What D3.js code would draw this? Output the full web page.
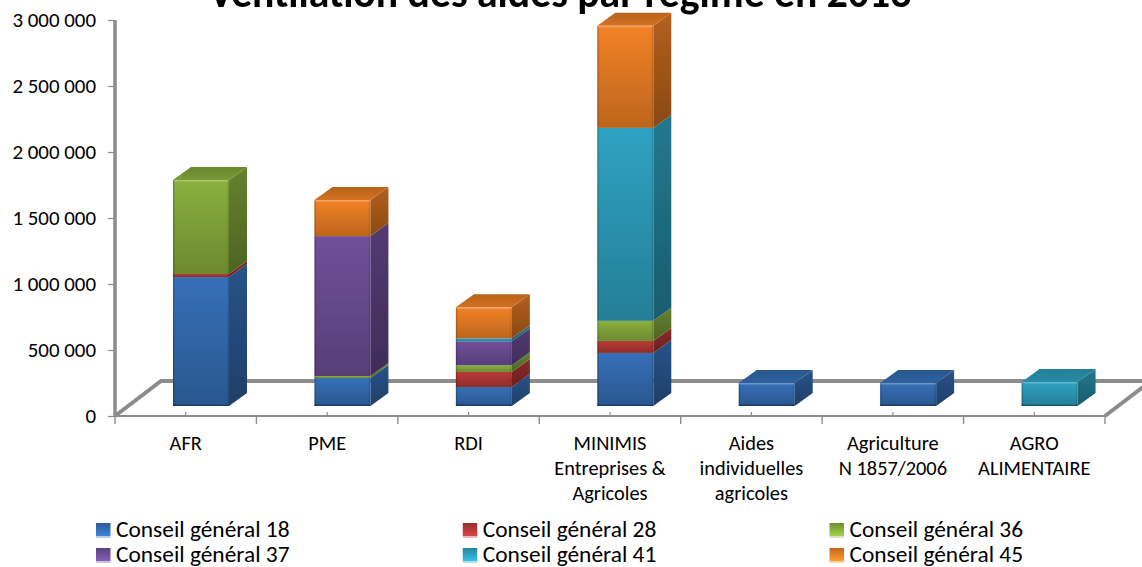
<!DOCTYPE html>
<html lang="fr">
<head>
<meta charset="utf-8">
<title>Ventilation des aides par régime en 2013</title>
<script src="https://cdn.jsdelivr.net/npm/d3@7/dist/d3.min.js"></script>
<style>
  html, body { margin: 0; padding: 0; background: #fff; overflow: hidden; }
  svg { display: block; font-family: Carlito, Lato, "Open Sans", sans-serif; fill: #000; }
</style>
</head>
<body>
<div id="chart"></div>
<script>
// Aid amounts in euros, one array per funding body, in category order.
const categories = [
  ["AFR"],
  ["PME"],
  ["RDI"],
  ["MINIMIS", "Entreprises &", "Agricoles"],
  ["Aides", "individuelles", "agricoles"],
  ["Agriculture", "N 1857/2006"],
  ["AGRO", "ALIMENTAIRE"]
];
const seriesNames = ["Conseil général 18", "Conseil général 28", "Conseil général 36",
                     "Conseil général 37", "Conseil général 41", "Conseil général 45"];
const cg18 = [977000, 212000, 144000, 402000, 174000, 174000, 0];
const cg28 = [23000, 0, 114000, 91000, 0, 0, 0];
const cg36 = [712000, 15000, 50000, 152000, 0, 0, 0];
const cg37 = [0, 1060000, 182000, 0, 0, 0, 0];
const cg41 = [0, 0, 23000, 1462000, 0, 0, 182000];
const cg45 = [0, 273000, 235000, 773000, 0, 0, 0];
const yTicks = [0, 500000, 1000000, 1500000, 2000000, 2500000, 3000000];
const seriesColors = ["#3670b8", "#b93a36", "#8ab03e", "#70509a", "#2fa2c2", "#f28226"];

const allSeries = [cg18, cg28, cg36, cg37, cg41, cg45];
const width = 1142, height = 567;

const svg = d3.select("#chart").append("svg")
  .attr("width", width).attr("height", height);

const x = d3.scaleBand().domain(d3.range(categories.length)).range([115, 1105]);
const y = d3.scaleLinear().domain([0, 3000000]).range([416, 20]);

// Oblique projection: floor depth and bar depth.
const floorDx = 46, floorDy = -35;
const barDx = 18, barDy = -13;
const barBaseLift = 10, barLeft = 58, barWidth = 56;
const axisGrey = "#8c8c8c";

// Gradients for the front, side and top faces of each colour.
const defs = svg.append("defs");
const shade = (c, k) => d3.color(c).darker(k).formatHex();
function gradient(id, top, bottom) {
  const g = defs.append("linearGradient").attr("id", id)
    .attr("x1", 0).attr("y1", 0).attr("x2", 0).attr("y2", 1);
  g.append("stop").attr("offset", 0).attr("stop-color", top);
  g.append("stop").attr("offset", 1).attr("stop-color", bottom);
}
seriesColors.forEach((c, i) => {
  gradient(`front${i}`, c, shade(c, 0.7));
  gradient(`side${i}`, shade(c, 0.85), shade(c, 1.6));
  gradient(`top${i}`, shade(c, 0.75), shade(c, 0.4));
  gradient(`key${i}`, shade(c, 0.6), d3.color(c).brighter(0.5).formatHex());
});
// Slight softening of the bevelled bar edges.
defs.append("filter").attr("id", "soft")
  .attr("x", "-5%").attr("y", "-5%").attr("width", "110%").attr("height", "110%")
  .append("feGaussianBlur").attr("stdDeviation", 0.45);

// Floor: the two receding edges and the back edge, clipped at the page edge.
const floor = svg.append("g").attr("fill", "none").attr("stroke", axisGrey);
const x0 = x.range()[0], x1 = x.range()[1], yFloor = y(0);
floor.append("path").attr("stroke-width", 4)
  .attr("d", `M${x0},${yFloor}L${x0 + floorDx},${yFloor + floorDy}L${x1 + floorDx},${yFloor + floorDy}L${x1},${yFloor}`);

// Value axis, drawn as a thick wall edge with thin ticks.
const yAxis = d3.axisLeft(y).tickValues(yTicks).tickSize(7).tickPadding(12)
  .tickFormat(v => d3.format(",")(v).replace(/,/g, " "));
const yG = svg.append("g").attr("transform", `translate(${x0},0)`).call(yAxis)
  .attr("font-family", null).attr("font-size", 20.9);
yG.select(".domain").attr("stroke", axisGrey).attr("stroke-width", 3.5).attr("d", `M0,${y(3000000)}V${yFloor}`);
yG.selectAll(".tick line").attr("stroke", axisGrey).attr("stroke-width", 1.2);
yG.selectAll("text").attr("fill", "#000");

// Category axis with separators between groups.
const xG = svg.append("g").attr("transform", `translate(0,${yFloor})`);
xG.append("line").attr("x1", x0).attr("x2", x1).attr("stroke", axisGrey).attr("stroke-width", 1.8);
const edges = categories.map((_, i) => x(i)).concat([x1]);
xG.selectAll("line.sep").data(edges).join("line").attr("class", "sep")
  .attr("x1", d => d).attr("x2", d => d).attr("y1", 0).attr("y2", 8)
  .attr("stroke", axisGrey).attr("stroke-width", 1.4);
xG.selectAll("line.mid").data(categories.map((_, i) => i)).join("line").attr("class", "mid")
  .attr("x1", d => x(d) + x.bandwidth() / 2).attr("x2", d => x(d) + x.bandwidth() / 2)
  .attr("y1", -4).attr("y2", 0).attr("stroke", axisGrey).attr("stroke-width", 1.2);

const xLabels = svg.append("g").attr("text-anchor", "middle").attr("font-size", 20.4);
categories.forEach((lines, i) => {
  lines.forEach((line, j) => {
    xLabels.append("text")
      .attr("x", x(i) + x.bandwidth() / 2)
      .attr("y", 450 + j * 25).text(line);
  });
});

// Stacked bars: each category is drawn from the bottom segment upward.
const stackRows = categories.map((_, c) => {
  let running = 0;
  const rows = [];
  allSeries.forEach((values, s) => {
    const v = values[c];
    if (v > 0) { rows.push({ s, y0: running, y1: running + v }); running += v; }
  });
  return rows;
});

const bars = svg.append("g").attr("filter", "url(#soft)").selectAll("g").data(stackRows).join("g")
  .attr("transform", (_, i) => `translate(${x(i) + barLeft},${-barBaseLift})`);

bars.each(function (rows) {
  const g = d3.select(this);
  const w = barWidth;
  rows.forEach((r, k) => {
    const yb = y(r.y0), yt = y(r.y1);
    g.append("path").attr("fill", `url(#side${r.s})`)
      .attr("d", `M${w},${yt}L${w + barDx},${yt + barDy}V${yb + barDy}L${w},${yb}Z`);
    g.append("rect").attr("x", 0).attr("y", yt).attr("width", w).attr("height", yb - yt)
      .attr("fill", `url(#front${r.s})`);
    // Bevelled side edges of the front face.
    g.append("rect").attr("x", 0).attr("y", yt).attr("width", 1.5).attr("height", yb - yt)
      .attr("fill", "#000").attr("opacity", 0.18);
    g.append("rect").attr("x", w - 1.5).attr("y", yt).attr("width", 1.5).attr("height", yb - yt)
      .attr("fill", "#000").attr("opacity", 0.12);
    if (k === rows.length - 1) {
      g.append("path").attr("fill", `url(#top${r.s})`)
        .attr("d", `M0,${yt}L${barDx},${yt + barDy}H${w + barDx}L${w},${yt}Z`);
      g.append("rect").attr("x", 0.5).attr("y", yt).attr("width", w - 1).attr("height", 1.5)
        .attr("fill", "#fff").attr("opacity", 0.25);
    }
  });
  // Dark line along the foot of the bar.
  g.append("rect").attr("x", 0).attr("y", y(0) - 1.5).attr("width", w).attr("height", 1.5)
    .attr("fill", "#000").attr("opacity", 0.3);
});

// Title runs off the top of the page.
svg.append("text").attr("x", 560).attr("y", 7).attr("text-anchor", "middle")
  .attr("font-size", 41.7).attr("font-weight", 700)
  .text("Ventilation des aides par régime en 2013");

// Legend: three columns, two rows.
const keyX = d3.scalePoint().domain([0, 1, 2]).range([96, 829.5]);
const keyY = d3.scalePoint().domain([0, 1]).range([537, 562]);
const legend = svg.append("g").selectAll("g").data(seriesNames).join("g")
  .attr("transform", (_, i) => `translate(${keyX(i % 3)},${keyY(Math.floor(i / 3))})`);
legend.append("rect").attr("x", 0).attr("y", -14).attr("width", 14.5).attr("height", 13)
  .attr("fill", (_, i) => `url(#key${i})`);
legend.append("rect").attr("x", 0).attr("y", -1).attr("width", 14.5).attr("height", 2)
  .attr("fill", (_, i) => seriesColors[i]).attr("opacity", 0.35);
legend.append("text").attr("x", 20).attr("font-size", 23.4).text(d => d);
</script>
</body>
</html>
